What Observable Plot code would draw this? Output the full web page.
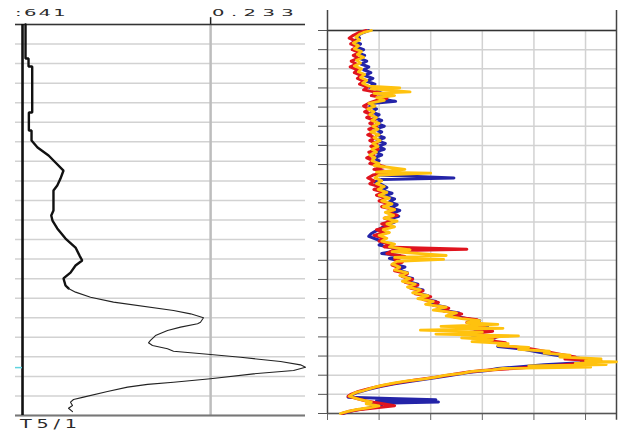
<!DOCTYPE html>
<html>
<head>
<meta charset="utf-8">
<script src="https://cdn.jsdelivr.net/npm/d3@7"></script>
<script src="https://cdn.jsdelivr.net/npm/@observablehq/plot@0.6"></script>
<style>
  html, body { margin: 0; padding: 0; background: #fff; }
  #wrap { position: relative; width: 619px; height: 432px; overflow: hidden; font-family: "DejaVu Sans", sans-serif; }
  #wrap svg { position: absolute; top: 0; }
  .lbl { position: absolute; color: #2a2a2a; transform-origin: 0 0; white-space: nowrap; line-height: 1; }
</style>
</head>
<body>
<div id="wrap"></div>
<script>
// ---- Track layout values ----
const trackDepths = d3.range(0, 21);          // depth gridlines (both tracks)
const leftBase = 0.0641;                      // left track baseline value
const leftRef = 0.233;                        // left track reference value
const leftDomain = [0.0578, 0.3182];
const rightTicks = [0, 1, 2, 3, 4, 5];
const rightDomain = [0, 5.6];

// Labels
const baseLabel = ":641";
const refLabel = "0.233";
const trackName = "T5/1";

// ---- Left track curve (depth, value) ----
const curveUpper = [
  [0, 0.0668], [1.74, 0.0668], [1.74, 0.0695], [2.15, 0.0695], [2.15, 0.0728],
  [4.50, 0.0728], [4.50, 0.0698], [5.42, 0.0698], [5.42, 0.0722], [5.93, 0.0722],
  [6.29, 0.0776], [6.70, 0.0875], [7.06, 0.0937], [7.47, 0.1009], [7.88, 0.0982],
  [8.24, 0.0953], [8.49, 0.0919], [9.51, 0.0919], [9.77, 0.0899], [10.03, 0.0910],
  [10.43, 0.0953], [10.95, 0.1027], [11.41, 0.1117], [11.82, 0.1153], [12.07, 0.1177],
  [12.33, 0.1117], [12.69, 0.1072], [12.99, 0.1009], [13.35, 0.1027], [13.50, 0.1054]
];
const curveLower = [
  [13.50, 0.1054], [13.69, 0.1117], [13.95, 0.1252], [14.20, 0.1458], [14.63, 0.1997],
  [14.80, 0.2150], [15.00, 0.2266], [15.23, 0.2239], [15.31, 0.2213], [15.48, 0.2060],
  [15.65, 0.1943], [15.91, 0.1835], [16.16, 0.1790], [16.28, 0.1772], [16.42, 0.1808],
  [16.59, 0.1943], [16.71, 0.1997], [16.88, 0.2329], [17.02, 0.2599], [17.24, 0.2958],
  [17.41, 0.3137], [17.53, 0.3182], [17.70, 0.3075], [17.87, 0.2715], [18.12, 0.2329],
  [18.30, 0.1997], [18.41, 0.1764], [18.55, 0.1584], [18.77, 0.1404], [19.06, 0.1189],
  [19.18, 0.1099], [19.32, 0.1072], [19.49, 0.1090], [19.63, 0.1054], [19.80, 0.1090]
];

// ---- Right track: three runs (depth, value) ----
const blueRun = [
  [0.00,0.80],[0.12,0.68],[0.25,0.58],[0.40,0.62],[0.55,0.50],[0.70,0.64],[0.85,0.55],[1.00,0.70],
  [1.15,0.58],[1.30,0.72],[1.45,0.62],[1.60,0.76],[1.75,0.65],[1.90,0.80],[2.05,0.70],[2.20,0.84],
  [2.35,0.72],[2.50,0.88],[2.65,0.76],[2.80,0.92],[2.95,0.80],[3.10,1.05],[3.25,0.90],[3.40,1.20],
  [3.55,1.00],[3.70,1.32],[3.80,0.90],[3.95,0.82],[4.10,0.95],[4.25,0.85],[4.40,1.00],[4.55,0.90],
  [4.70,1.05],[4.85,0.95],[5.00,1.10],[5.15,0.92],[5.30,1.05],[5.45,0.95],[5.60,1.10],[5.75,0.96],
  [5.90,1.12],[6.05,0.98],[6.20,1.10],[6.35,0.92],[6.50,1.05],[6.65,0.90],[6.80,1.00],[6.95,0.88],
  [7.10,1.05],[7.25,0.95],[7.40,1.15],[7.55,1.00],[7.70,2.45],[7.78,1.05],[7.90,0.92],[8.05,1.05],
  [8.20,1.15],[8.35,1.05],[8.50,1.25],[8.65,1.10],[8.80,1.30],[8.95,1.20],[9.10,1.35],[9.25,1.22],
  [9.40,1.40],[9.55,1.25],[9.70,1.38],[9.85,1.20],[10.00,1.30],[10.15,1.15],[10.30,1.05],[10.45,0.95],
  [10.60,0.85],[10.75,0.80],[10.90,0.95],[11.05,1.10],[11.20,1.00],[11.35,1.25],[11.50,1.35],[11.65,1.05],
  [11.75,1.40],[11.90,1.20],[12.05,1.40],[12.20,1.30],[12.35,1.50],[12.50,1.35],[12.65,1.55],[12.80,1.42],
  [12.95,1.65],[13.10,1.55],[13.25,1.75],[13.40,1.60],[13.55,1.85],[13.70,1.72],[13.85,1.95],[14.00,1.85],
  [14.15,2.10],[14.30,2.00],[14.45,2.30],[14.60,2.20],[14.75,2.55],[14.90,2.45],[15.05,2.70],[15.15,2.95],
  [15.30,2.80],[15.45,3.10],[15.60,2.85],[15.75,3.00],[15.90,2.80],[16.05,3.25],[16.20,3.05],[16.35,3.40],
  [16.50,3.30],[16.65,3.80],[16.80,4.10],[16.95,4.40],[17.05,4.70],[17.20,5.10],[17.35,4.90],[17.45,4.20],
  [17.55,3.80],[17.65,3.30],[17.75,3.10],[17.85,2.75],[18.00,2.40],[18.15,2.05],[18.30,1.65],[18.45,1.30],
  [18.60,1.00],[18.75,0.78],[18.90,0.58],[19.05,0.45],[19.15,0.40],[19.22,1.20],[19.28,2.10],[19.32,0.95],
  [19.40,2.15],[19.48,0.80],[19.60,1.05],[19.72,0.78],[19.85,0.50],[20.00,0.30]
];
const redRun = [
  [0.00,0.75],[0.12,0.60],[0.25,0.50],[0.40,0.42],[0.55,0.55],[0.70,0.45],[0.85,0.58],[1.00,0.48],
  [1.15,0.62],[1.30,0.50],[1.45,0.60],[1.60,0.46],[1.75,0.56],[1.90,0.44],[2.05,0.58],[2.20,0.52],
  [2.35,0.66],[2.50,0.58],[2.65,0.70],[2.80,0.62],[2.95,0.78],[3.10,0.70],[3.25,1.00],[3.40,0.85],
  [3.55,1.15],[3.65,0.95],[3.80,0.80],[3.95,0.70],[4.10,0.82],[4.25,0.72],[4.40,0.86],[4.55,0.76],
  [4.70,0.92],[4.85,0.82],[5.00,0.95],[5.15,0.80],[5.30,0.90],[5.45,0.78],[5.60,0.92],[5.75,0.82],
  [5.90,0.96],[6.05,0.84],[6.20,0.98],[6.35,0.80],[6.50,0.90],[6.65,0.76],[6.80,0.88],[6.95,0.82],
  [7.10,1.10],[7.25,0.90],[7.40,1.20],[7.55,0.88],[7.70,0.78],[7.85,0.90],[8.00,0.82],[8.15,1.00],
  [8.30,0.90],[8.45,1.10],[8.60,0.95],[8.75,1.15],[8.90,1.00],[9.05,1.20],[9.20,1.05],[9.35,1.30],
  [9.50,1.15],[9.65,1.35],[9.80,1.10],[9.95,1.25],[10.10,1.05],[10.25,1.20],[10.40,0.95],[10.55,1.10],
  [10.70,0.90],[10.85,1.10],[11.00,1.00],[11.15,1.20],[11.30,1.10],[11.42,2.70],[11.50,1.25],[11.65,1.15],
  [11.80,1.50],[11.95,1.30],[12.10,1.45],[12.25,1.25],[12.40,1.40],[12.55,1.30],[12.70,1.55],[12.85,1.45],
  [13.00,1.65],[13.15,1.50],[13.30,1.75],[13.45,1.60],[13.60,1.85],[13.75,1.70],[13.90,2.00],[14.05,1.85],
  [14.20,2.15],[14.35,2.05],[14.50,2.35],[14.65,2.25],[14.80,2.60],[14.95,2.45],[15.10,2.90],[15.25,2.70],
  [15.40,3.05],[15.55,2.70],[15.70,3.20],[15.85,2.75],[16.00,3.30],[16.15,3.00],[16.30,3.45],[16.45,3.35],
  [16.60,3.90],[16.75,4.20],[16.90,4.50],[17.05,4.80],[17.15,4.60],[17.25,5.30],[17.35,5.00],[17.45,4.60],
  [17.55,4.10],[17.65,3.60],[17.75,3.00],[17.85,2.70],[17.95,2.45],[18.10,2.10],[18.25,1.70],[18.40,1.35],
  [18.55,1.05],[18.70,0.80],[18.85,0.60],[19.00,0.45],[19.10,0.40],[19.20,0.55],[19.35,0.75],[19.50,1.10],
  [19.60,1.30],[19.70,0.95],[19.80,0.60],[19.90,0.40],[20.00,0.28]
];
const yellowRun = [
  [0.00,0.85],[0.10,0.70],[0.20,0.62],[0.35,0.55],[0.50,0.62],[0.65,0.50],[0.80,0.60],[0.95,0.52],
  [1.10,0.66],[1.25,0.58],[1.40,0.70],[1.55,0.56],[1.70,0.64],[1.85,0.52],[2.00,0.66],[2.15,0.60],
  [2.30,0.72],[2.45,0.64],[2.60,0.76],[2.75,0.68],[2.90,0.80],[3.00,1.40],[3.05,0.85],[3.20,1.60],
  [3.28,0.90],[3.40,1.30],[3.50,0.95],[3.65,1.10],[3.80,0.80],[3.95,0.92],[4.10,0.78],[4.25,0.90],
  [4.40,0.82],[4.55,0.95],[4.70,0.86],[4.85,1.00],[5.00,0.88],[5.15,0.98],[5.30,0.84],[5.45,1.00],
  [5.60,0.90],[5.75,1.02],[5.90,0.88],[6.05,0.98],[6.20,0.86],[6.35,0.95],[6.50,0.82],[6.65,0.92],
  [6.80,0.86],[6.95,1.00],[7.05,0.90],[7.25,1.50],[7.40,0.95],[7.45,2.00],[7.55,1.00],[7.70,0.92],
  [7.85,1.05],[8.00,0.95],[8.15,1.10],[8.30,0.98],[8.45,1.15],[8.60,1.00],[8.75,1.20],[8.90,1.05],
  [9.05,1.25],[9.20,1.08],[9.35,1.30],[9.50,1.12],[9.65,1.28],[9.80,1.10],[9.95,1.35],[10.10,1.15],
  [10.25,1.30],[10.40,1.08],[10.55,1.20],[10.70,1.00],[10.85,1.15],[11.00,1.05],[11.15,1.30],[11.30,1.20],
  [11.45,1.60],[11.55,1.25],[11.75,2.30],[11.85,1.30],[11.95,2.25],[12.05,1.35],[12.20,1.25],[12.35,1.40],
  [12.50,1.30],[12.65,1.55],[12.80,1.40],[12.95,1.60],[13.10,1.45],[13.25,1.70],[13.40,1.55],[13.55,1.80],
  [13.70,1.65],[13.85,1.95],[14.00,1.75],[14.15,2.05],[14.30,1.90],[14.45,2.30],[14.60,2.05],[14.75,2.50],
  [14.90,2.30],[15.05,2.60],[15.15,2.95],[15.25,2.70],[15.35,3.30],[15.45,2.20],[15.55,3.40],[15.65,1.80],
  [15.75,3.00],[15.85,2.10],[15.95,3.70],[16.05,2.60],[16.15,3.20],[16.25,2.80],[16.35,3.50],[16.45,3.30],
  [16.55,3.90],[16.65,3.70],[16.75,4.30],[16.85,4.20],[16.95,4.70],[17.05,4.50],[17.15,5.30],[17.25,5.00],
  [17.30,5.60],[17.38,4.80],[17.45,5.40],[17.52,3.90],[17.58,5.10],[17.65,3.40],[17.72,3.20],[17.80,2.80],
  [17.90,2.60],[18.00,2.30],[18.10,2.10],[18.20,1.85],[18.30,1.55],[18.40,1.30],[18.50,1.10],[18.60,0.95],
  [18.70,0.82],[18.80,0.70],[18.90,0.55],[19.00,0.48],[19.10,0.42],[19.25,0.60],[19.40,0.85],[19.50,0.75],
  [19.60,1.00],[19.70,0.80],[19.80,0.55],[19.90,0.38],[20.00,0.25]
];

const gridColor = "#d2d2d2";
const wrap = document.getElementById("wrap");

// ---- Left track ----
const left = Plot.plot({
  width: 310, height: 432,
  marginLeft: 15, marginRight: 5, marginTop: 24, marginBottom: 17,
  x: {domain: leftDomain, axis: null},
  y: {domain: [0, 20], reverse: true, axis: null},
  marks: [
    Plot.ruleY(trackDepths, {stroke: gridColor, strokeWidth: 1.5}),
    Plot.ruleX([leftRef], {stroke: "#bdbdbd", strokeWidth: 2.5}),
    Plot.ruleX([leftRef], {y1: -0.35, y2: 0, stroke: "#222", strokeWidth: 1.5}),
    Plot.ruleY([0], {stroke: "#333", strokeWidth: 1.5}),
    Plot.ruleY([20], {stroke: "#777", strokeWidth: 2}),
    Plot.ruleX([leftBase], {stroke: "#111", strokeWidth: 2.6}),
    Plot.ruleY([17.55], {x1: leftDomain[0], x2: leftBase, stroke: "#5fd3df", strokeWidth: 1.5}),
    Plot.line(curveUpper, {x: d => d[1], y: d => d[0], stroke: "#111", strokeWidth: 2.4, strokeLinejoin: "miter"}),
    Plot.line(curveLower, {x: d => d[1], y: d => d[0], stroke: "#222", strokeWidth: 1.1})
  ]
});
left.style.left = "0px";
wrap.appendChild(left);

// ---- Right track ----
const runLine = (data, color, w) =>
  Plot.line(data, {x: d => d[1], y: d => d[0], stroke: color, strokeWidth: w, strokeLinejoin: "round"});

const right = Plot.plot({
  width: 309, height: 432,
  marginLeft: 17, marginRight: 3, marginTop: 30, marginBottom: 19,
  x: {domain: rightDomain, axis: null},
  y: {domain: [0, 20], reverse: true, axis: null},
  marks: [
    Plot.ruleY(trackDepths, {stroke: gridColor, strokeWidth: 1.5}),
    Plot.ruleX(rightTicks.slice(1), {stroke: gridColor, strokeWidth: 1.5}),
    Plot.axisY(trackDepths, {anchor: "left", tickSize: 9, tickFormat: () => "", stroke: "#555"}),
    Plot.axisX(rightTicks, {anchor: "bottom", tickSize: 7, tickFormat: () => "", stroke: "#666"}),
    Plot.ruleY([0], {stroke: "#333", strokeWidth: 1.5}),
    Plot.ruleY([20], {stroke: "#555", strokeWidth: 1.5}),
    Plot.ruleX([rightDomain[0]], {y1: -1.05, y2: 20, stroke: "#444", strokeWidth: 1.5}),
    Plot.ruleX([rightDomain[1]], {y1: -1.05, y2: 20.35, stroke: "#444", strokeWidth: 1.5}),
    runLine(blueRun, "#2424a8", 3),
    runLine(redRun, "#e0141e", 3),
    runLine(yellowRun, "#ffc20e", 2.8)
  ]
});
right.style.left = "310px";
wrap.appendChild(right);

// ---- Track labels ----
function addLabel(text, x, y, size, sx, spacing) {
  const el = document.createElement("div");
  el.className = "lbl";
  el.textContent = text;
  el.style.left = x + "px";
  el.style.top = y + "px";
  el.style.fontSize = size + "px";
  el.style.letterSpacing = spacing + "px";
  el.style.transform = `scaleX(${sx})`;
  wrap.appendChild(el);
}
addLabel(baseLabel, 15, 9, 8.5, 2.3, 1);
addLabel(refLabel, 212, 9, 8.5, 2.3, 2.8);
addLabel(trackName, 20, 418, 12, 1.6, 3);
</script>
</body>
</html>
